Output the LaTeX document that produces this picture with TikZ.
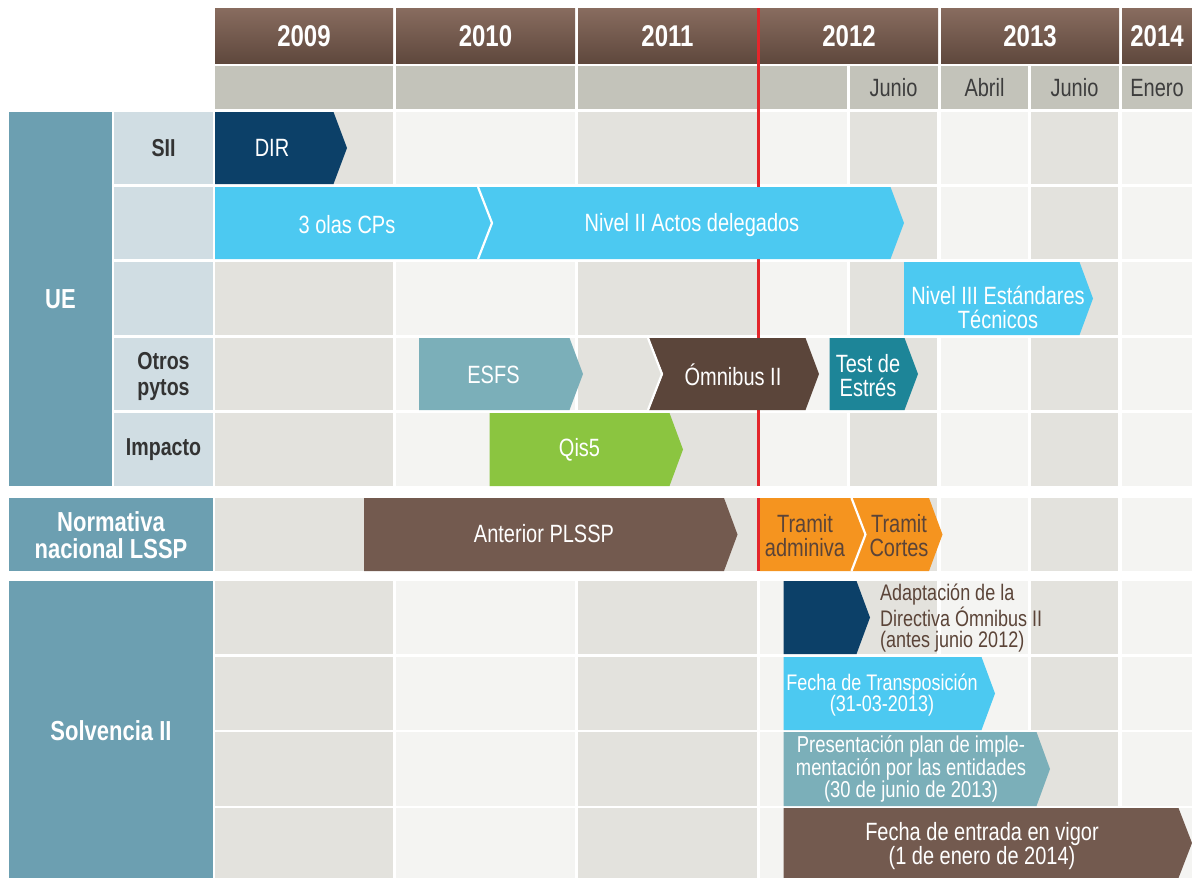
\documentclass[tikz,border=0pt]{standalone}
\usepackage{fontspec}
\setmainfont{Liberation Sans}[FakeStretch=0.8]
\definecolor{hdrtop}{HTML}{886C5F}
\definecolor{hdrbot}{HTML}{5F483D}
\definecolor{subhd}{HTML}{C3C3BA}
\definecolor{celld}{HTML}{E3E2DD}
\definecolor{celll}{HTML}{F4F4F2}
\definecolor{uecol}{HTML}{6C9FB1}
\definecolor{lblcol}{HTML}{D0DDE3}
\definecolor{navy}{HTML}{0C4068}
\definecolor{sky}{HTML}{4CC9F1}
\definecolor{greyteal}{HTML}{7BAFB9}
\definecolor{choco}{HTML}{5B453A}
\definecolor{teal2}{HTML}{1D8598}
\definecolor{lime}{HTML}{8BC540}
\definecolor{mocha}{HTML}{735A4F}
\definecolor{orng}{HTML}{F5941F}
\definecolor{brtext}{HTML}{5B4438}
\definecolor{redln}{HTML}{E3262B}
\definecolor{lbltext}{HTML}{333333}
\definecolor{subtext}{HTML}{3D3D3D}
\newcommand\fsz[2]{\fontsize{#1}{#2}\selectfont}
% chevron: colour, x0, tip x, y0, y1, notch depth
\newcommand\chevr[6]{\fill[#1] (#2,#4) -- ({#3-13.5},#4) -- (#3,{(#4+#5)/2}) -- ({#3-13.5},#5) -- (#2,#5) -- ({#2+#6},{(#4+#5)/2}) -- cycle;}
\newcommand\notchln[3]{\draw[white,line width=2.2pt,line join=miter] (#1,#2) -- ({#1+14},{(#2+#3)/2}) -- (#1,#3);}
\tikzset{
  yr/.style={text=white,font=\fsz{30}{30}\bfseries,inner sep=0pt},
  mon/.style={text=subtext,font=\fsz{25}{25},inner sep=0pt},
  rowlbl/.style={text=lbltext,font=\fsz{24.5}{26}\bfseries,align=center,inner sep=0pt},
  grplbl/.style={text=white,font=\fsz{27.5}{26.5}\bfseries,align=center,inner sep=0pt},
  bartxt/.style={text=white,font=\fsz{25}{24},align=center,inner sep=0pt},
  smtxt/.style={text=white,font=\fsz{22.5}{21},align=center,inner sep=0pt},
}
\begin{document}
\begin{tikzpicture}[x=1pt,y=-1pt]
\useasboundingbox (0,0) rectangle (1192,878);
% header years
\foreach \a/\b in {215/393,396/575,578/757,760/938,941/1119,1122/1192}
  \shade[top color=hdrtop,bottom color=hdrbot] (\a,8) rectangle (\b,63);
% sub header
\foreach \a/\b in {215/393,396/575,578/757,760/847,850/938,941/1028,1031/1119,1122/1192}
  \fill[subhd] (\a,66) rectangle (\b,109);
% body grid
\foreach \ya/\yb in {112/184,187/259,262/335,338/410,413/486,498/571,581/654,657/730,732/806,808/878}{
  \foreach \a/\b/\c in {215/393/celld,396/575/celll,578/757/celld,760/847/celll,850/937/celld,941/1028/celll,1031/1118/celld,1122/1192/celll}
    \fill[\c] (\a,\ya) rectangle (\b,\yb);
}
% left columns
\fill[uecol] (9,112) rectangle (112,486);
\foreach \ya/\yb in {112/184,187/259,262/335,338/410,413/486}
  \fill[lblcol] (114,\ya) rectangle (213,\yb);
\fill[uecol] (9,498) rectangle (213,571);
\fill[uecol] (9,581) rectangle (213,878);
% red line
\draw[redln,line width=3pt] (758.5,8) -- (758.5,486);
\draw[redln,line width=3pt] (758.5,498) -- (758.5,571);
% headers text
\node[yr] (h2009) at (304,36) {2009};
\node[yr] (h2010) at (485.5,36) {2010};
\node[yr] (h2011) at (667.5,36) {2011};
\node[yr] (h2012) at (849,36) {2012};
\node[yr] (h2013) at (1030,36) {2013};
\node[yr] (h2014) at (1157,36) {2014};
\node[mon] (m1) at (893.5,88) {Junio};
\node[mon] (m2) at (984.5,88) {Abril};
\node[mon] (m3) at (1074.5,88) {Junio};
\node[mon] (m4) at (1157,88) {Enero};
% row labels
\node[grplbl] (ue) at (60.5,299) {UE};
\node[rowlbl] (sii) at (163.5,148) {SII};
\node[rowlbl] (otros) at (163.5,376) {Otros\\pytos};
\node[rowlbl] (imp) at (163.5,450) {Impacto};
\node[grplbl] (norm) at (111,535) {Normativa\\nacional LSSP};
\node[grplbl] (solv) at (111,731) {Solvencia II};
% bars UE
\chevr{navy}{215}{347}{112}{184}{0}
\node[bartxt] (dir) at (272,148) {DIR};
\chevr{sky}{215}{492}{187}{259}{0}
\chevr{sky}{478}{904}{187}{259}{14}
\notchln{478}{187}{259}
\node[bartxt] (olas) at (347,225) {3 olas CPs};
\node[bartxt] (niv2) at (692,225) {Nivel II Actos delegados};
\chevr{sky}{904}{1093}{262}{335}{0}
\node[bartxt] (niv3) at (998,307) {Nivel III Estándares\\Técnicos};
\chevr{greyteal}{419}{583}{338}{410}{0}
\node[bartxt] (esfs) at (493.5,375) {ESFS};
\chevr{choco}{649}{819}{338}{410}{14}
\notchln{648}{338}{410}
\node[bartxt] (omn) at (733,375) {Ómnibus II};
\chevr{teal2}{829.5}{918}{338}{410}{0}
\node[bartxt] (test) at (868,376) {Test de\\Estrés};
\chevr{lime}{489.5}{683}{413}{486}{0}
\node[bartxt] (qis) at (579.5,450) {Qis5};
% Normativa
\chevr{mocha}{364}{737.5}{498}{571}{0}
\node[bartxt] (ant) at (544,534) {Anterior PLSSP};
\chevr{orng}{760}{865}{498}{571}{0}
\chevr{orng}{852}{942.5}{498}{571}{14}
\notchln{851.5}{498}{571}
\node[bartxt,text=brtext] (tr1) at (805,536) {Tramit\\adminiva};
\node[bartxt,text=brtext] (tr2) at (899,536) {Tramit\\Cortes};
% Solvencia
\chevr{navy}{783.5}{870}{581}{654}{0}
\node[smtxt,text=brtext,align=left,anchor=west] (adap) at (880,618) {Adaptación de la\\Directiva Ómnibus II\\(antes junio 2012)};
\chevr{sky}{783.5}{995}{657}{730}{0}
\node[smtxt] (ftr) at (882,695) {Fecha de Transposición\\(31-03-2013)};
\chevr{greyteal}{783.5}{1050}{732}{806}{0}
\node[smtxt,font=\fsz{23}{21.5}] (pres) at (911,769) {Presentación plan de imple-\\mentación por las entidades\\(30 de junio de 2013)};
\chevr{mocha}{783.5}{1192}{808}{878}{0}
\node[bartxt,font=\fsz{25}{23}] (fev) at (982,846) {Fecha de entrada en vigor\\(1 de enero de 2014)};
\end{tikzpicture}
\end{document}
